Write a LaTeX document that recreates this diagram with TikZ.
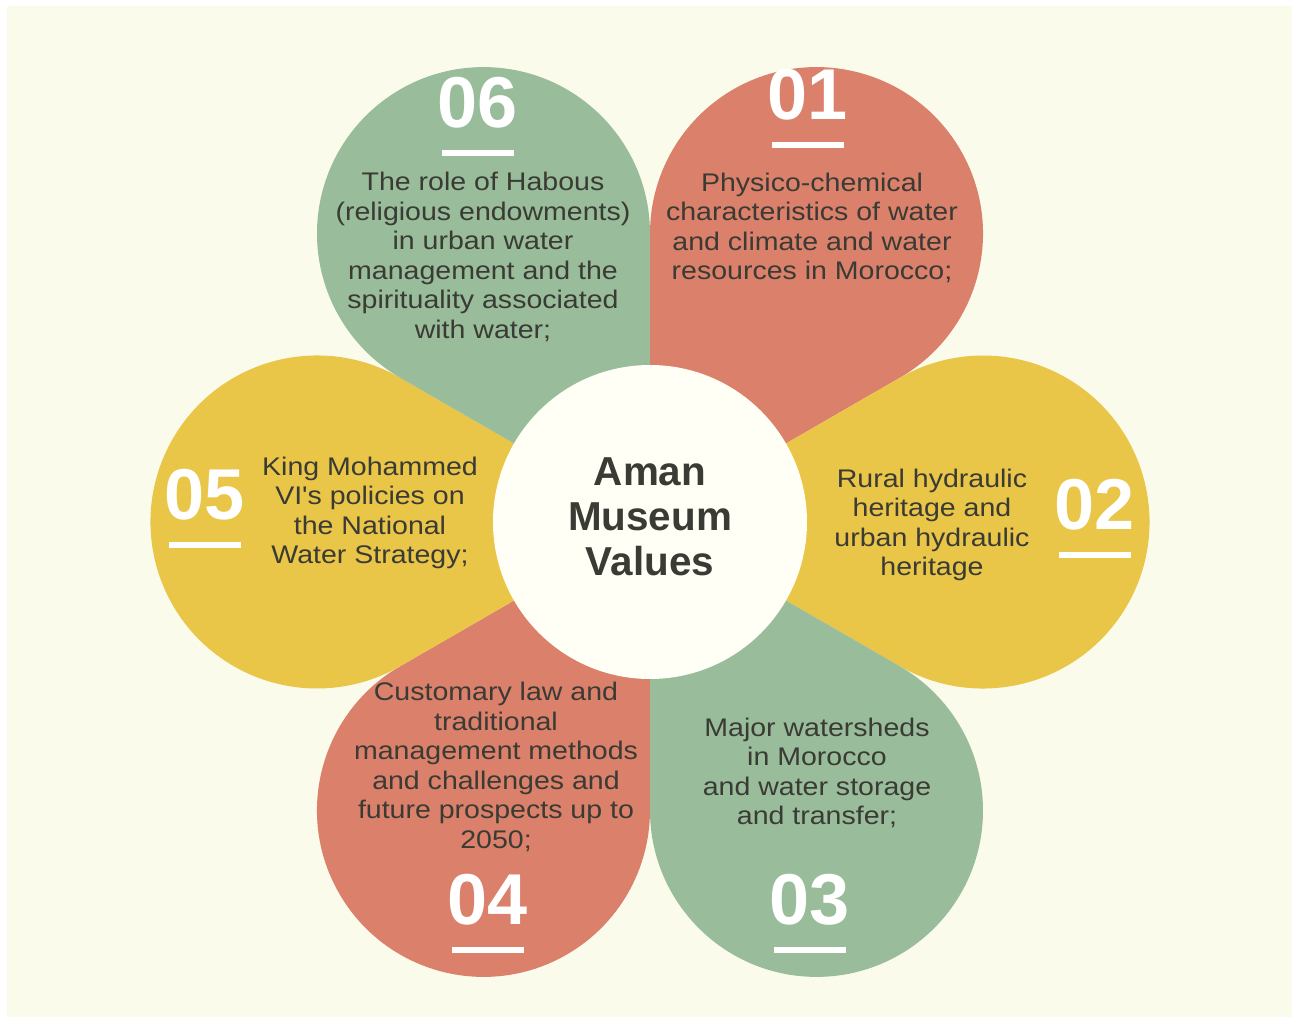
\documentclass[tikz,border=0pt]{standalone}
\usepackage{fontspec}
\setmainfont{Liberation Sans}
\newfontfamily\bodyfont{Liberation Sans}[FakeStretch=1.12]
\definecolor{bgcream}{HTML}{FBFBEC}
\definecolor{hubwhite}{HTML}{FFFFF5}
\definecolor{petalred}{HTML}{DB806B}
\definecolor{petalyellow}{HTML}{E9C548}
\definecolor{petalgreen}{HTML}{99BC9A}
\definecolor{inkgray}{HTML}{3A3B34}
\tikzset{
	petaltext/.style={align=center,text=inkgray,inner sep=0pt,
		font=\bodyfont\fontsize{14.5}{16.8}\selectfont},
	petalnum/.style={text=white,inner sep=0pt,font=\bfseries\fontsize{41}{41}\selectfont},
}
\begin{document}
\begin{tikzpicture}[x=0.02cm,y=0.02cm]
	\useasboundingbox (-650,-495) rectangle (642,522);
	\fill[white] (-650,-495) rectangle (642,522);
	\fill[bgcream] (-643,-510) rectangle (660,516);
	% petals: tip at the hub, round end of radius 166.5 at distance 333
	\foreach \a/\c in {60/petalred,0/petalyellow,-60/petalgreen,-120/petalred,180/petalyellow,120/petalgreen}
		\fill[\c] (0,0) -- (\a-30:288.4) arc[start angle=\a-120,end angle=\a+120,radius=166.5] -- cycle;
	\fill[hubwhite] (0,0) circle[radius=157];
	\node[align=center,text=inkgray,inner sep=0pt,font=\bfseries\fontsize{23}{25.5}\selectfont] (hub) at (0,5) {Aman\\Museum\\Values};
	% numbers with their white bars
	\foreach \n/\x/\y in {01/158/427,02/445/17,03/160/-378,04/-162/-378,05/-445/27,06/-172/419}{
		\node[petalnum] (num\n) at (\x,\y) {\n};
		\fill[white] ([shift={(-36,-47)}]num\n.center) rectangle ++(72,-6);
	}
	\node[petaltext] (txt01) at (162,294) {Physico-chemical\\characteristics of water\\and climate and water\\resources in Morocco;};
	\node[petaltext] (txt02) at (282,-3) {Rural hydraulic\\heritage and\\urban hydraulic\\heritage};
	\node[petaltext] (txt03) at (167,-251) {Major watersheds\\in Morocco\\and water storage\\and transfer;};
	\node[petaltext] (txt04) at (-154,-245) {Customary law and\\traditional\\management methods\\and challenges and\\future prospects up to\\2050;};
	\node[petaltext] (txt05) at (-280,9) {King Mohammed\\VI's policies on\\the National\\Water Strategy;};
	\node[petaltext] (txt06) at (-167,265) {The role of Habous\\(religious endowments)\\in urban water\\management and the\\spirituality associated\\with water;};
\end{tikzpicture}
\end{document}
